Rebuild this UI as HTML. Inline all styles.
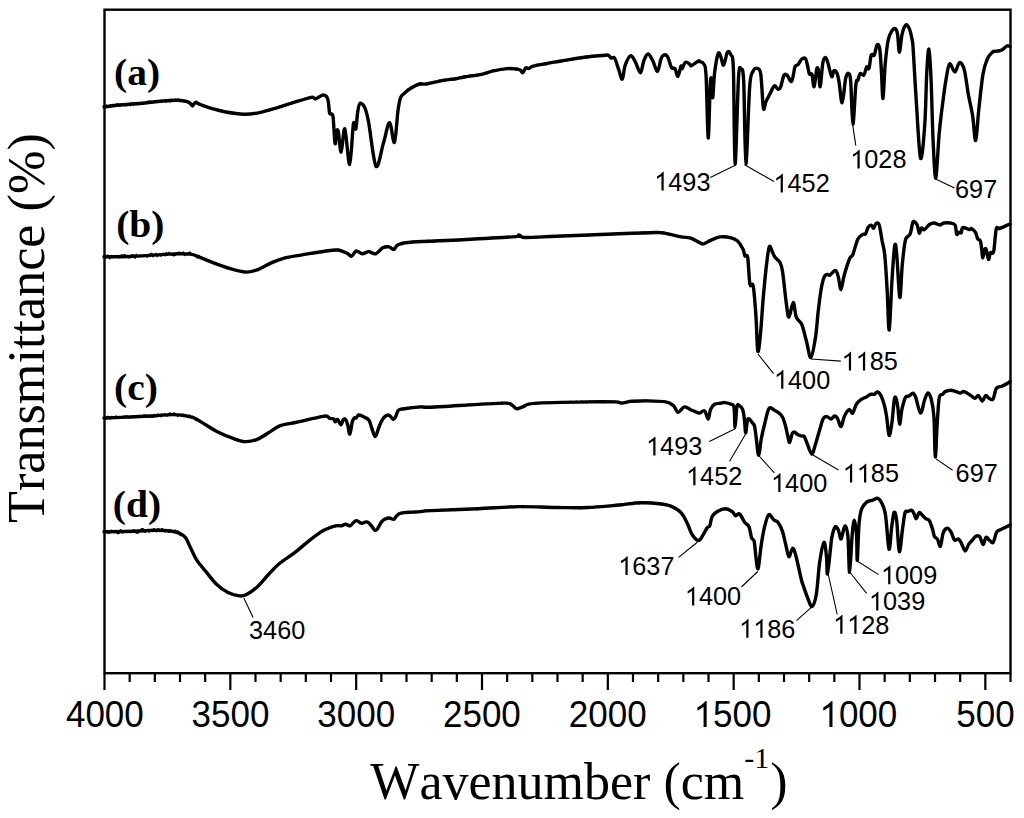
<!DOCTYPE html>
<html><head><meta charset="utf-8"><style>
html,body{margin:0;padding:0;background:#fff;}
body{width:1024px;height:818px;overflow:hidden;font-family:"Liberation Sans",sans-serif;}
svg{display:block;}
text{font-kerning:none;font-feature-settings:'kern' 0;}
</style></head><body>
<svg width="1024" height="818" viewBox="0 0 1024 818">
<rect x="104.5" y="9.7" width="906" height="663.5" fill="none" stroke="#000" stroke-width="2.4"/>
<path d="M104.50,673.2v16.7M129.67,673.2v8.7M154.83,673.2v8.7M180.00,673.2v8.7M205.17,673.2v8.7M230.33,673.2v16.7M255.50,673.2v8.7M280.67,673.2v8.7M305.83,673.2v8.7M331.00,673.2v8.7M356.17,673.2v16.7M381.33,673.2v8.7M406.50,673.2v8.7M431.67,673.2v8.7M456.83,673.2v8.7M482.00,673.2v16.7M507.17,673.2v8.7M532.33,673.2v8.7M557.50,673.2v8.7M582.67,673.2v8.7M607.83,673.2v16.7M633.00,673.2v8.7M658.17,673.2v8.7M683.33,673.2v8.7M708.50,673.2v8.7M733.67,673.2v16.7M758.83,673.2v8.7M784.00,673.2v8.7M809.17,673.2v8.7M834.33,673.2v8.7M859.50,673.2v16.7M884.67,673.2v8.7M909.83,673.2v8.7M935.00,673.2v8.7M960.17,673.2v8.7M985.33,673.2v16.7M1010.50,673.2v8.7" stroke="#000" stroke-width="2.2" fill="none"/>
<text transform="translate(65.94,727.00) scale(1,1.035)" x="0.00 19.47 38.93 58.40" y="0" font-family="Liberation Sans" font-size="35.0">4000</text>
<text transform="translate(191.51,727.00) scale(1,1.035)" x="0.00 19.47 38.93 58.40" y="0" font-family="Liberation Sans" font-size="35.0">3500</text>
<text transform="translate(317.34,727.00) scale(1,1.035)" x="0.00 19.47 38.93 58.40" y="0" font-family="Liberation Sans" font-size="35.0">3000</text>
<text transform="translate(442.97,727.00) scale(1,1.035)" x="0.00 19.47 38.93 58.40" y="0" font-family="Liberation Sans" font-size="35.0">2500</text>
<text transform="translate(568.80,727.00) scale(1,1.035)" x="0.00 19.47 38.93 58.40" y="0" font-family="Liberation Sans" font-size="35.0">2000</text>
<path d="M0.373,0L0.285,0L0.285,-0.561Q0.252,-0.530 0.199,-0.499Q0.146,-0.468 0.109,-0.454L0.109,-0.539Q0.193,-0.578 0.256,-0.634Q0.318,-0.690 0.344,-0.716L0.373,-0.716Z" transform="translate(693.60,727.00) scale(35.000,36.225)"/><text transform="translate(693.60,727.00) scale(1,1.035)" x="19.47 38.93 58.40" y="0" font-family="Liberation Sans" font-size="35.0">500</text>
<path d="M0.373,0L0.285,0L0.285,-0.561Q0.252,-0.530 0.199,-0.499Q0.146,-0.468 0.109,-0.454L0.109,-0.539Q0.193,-0.578 0.256,-0.634Q0.318,-0.690 0.344,-0.716L0.373,-0.716Z" transform="translate(819.43,727.00) scale(35.000,36.225)"/><text transform="translate(819.43,727.00) scale(1,1.035)" x="19.47 38.93 58.40" y="0" font-family="Liberation Sans" font-size="35.0">000</text>
<text transform="translate(956.21,727.00) scale(1,1.035)" x="0.00 19.47 38.93" y="0" font-family="Liberation Sans" font-size="35.0">500</text>
<path d="M104.0,106.8C107.1,106.5 115.7,105.4 122.5,104.8C129.3,104.2 138.6,103.6 144.9,103.0C151.2,102.4 155.3,101.7 160.6,101.2C165.8,100.8 172.3,100.3 176.4,100.3C180.5,100.3 183.2,100.8 185.4,101.2C187.6,101.7 188.6,102.2 189.8,103.0C191.0,103.8 191.6,105.8 192.5,105.7C193.4,105.6 194.1,102.7 195.5,102.5C196.9,102.3 198.3,103.8 201.1,104.8C203.9,105.8 208.2,107.4 212.3,108.6C216.4,109.8 220.6,111.1 225.8,112.0C231.1,112.9 238.6,114.0 243.8,114.2C249.0,114.4 252.7,113.8 257.2,113.1C261.7,112.3 265.1,111.3 270.7,109.7C276.3,108.1 284.2,105.5 290.9,103.4C297.6,101.4 307.0,98.2 311.1,97.4C315.2,96.7 313.7,99.3 315.6,98.9C317.5,98.5 320.6,95.5 322.4,95.1C324.2,94.7 325.5,95.5 326.5,96.5C327.5,97.5 327.8,98.7 328.3,101.4C328.8,104.2 329.0,110.9 329.6,113.0C330.2,115.1 331.4,113.4 332.0,114.2C332.6,115.0 332.7,113.0 333.2,117.9C333.7,122.8 334.5,141.4 335.1,143.6C335.7,145.8 336.1,133.2 336.7,131.3C337.2,129.4 337.6,128.5 338.4,132.0C339.1,135.5 340.1,152.6 341.2,152.1C342.3,151.6 343.4,126.9 344.8,128.9C346.2,131.0 348.3,165.2 349.7,164.4C351.1,163.6 352.4,129.9 353.4,124.0C354.4,118.1 355.1,130.9 355.8,128.9C356.5,126.9 357.0,116.1 357.7,111.8C358.4,107.5 358.9,103.8 360.1,103.2C361.3,102.6 363.6,104.8 365.0,108.1C366.4,111.4 366.9,113.1 368.7,122.8C370.5,132.5 373.6,162.7 376.0,166.2C378.4,169.7 381.1,150.8 383.3,143.6C385.6,136.4 387.6,123.0 389.5,122.8C391.4,122.6 393.0,144.3 394.4,142.3C395.8,140.3 397.0,118.0 398.0,110.6C399.0,103.2 399.5,100.5 400.5,97.7C401.5,94.9 402.4,95.1 404.1,93.5C405.8,91.9 408.2,89.9 410.7,88.3C413.2,86.7 416.8,84.7 419.3,84.0C421.8,83.3 421.9,84.6 425.8,84.0C429.8,83.4 438.0,81.3 443.0,80.4C448.0,79.5 452.3,79.3 455.9,78.7C459.5,78.1 460.1,77.7 464.4,77.0C468.7,76.3 476.9,75.4 481.6,74.4C486.3,73.4 488.1,72.1 492.4,71.1C496.7,70.1 503.5,68.9 507.4,68.6C511.3,68.2 513.9,68.8 516.0,69.0C518.1,69.2 519.1,69.5 520.3,70.1C521.4,70.7 522.0,73.1 522.9,72.7C523.8,72.3 524.7,68.6 525.7,67.9C526.7,67.2 527.6,68.7 528.9,68.4C530.1,68.1 530.3,67.0 533.2,66.2C536.1,65.4 541.5,64.5 546.1,63.6C550.8,62.7 554.7,62.1 561.1,61.0C567.5,59.9 577.9,58.1 584.7,57.2C591.5,56.3 598.0,55.8 601.9,55.5C605.8,55.2 606.7,54.8 608.2,55.2C609.7,55.6 610.0,57.6 611.1,58.1C612.2,58.6 613.3,56.2 614.6,58.1C615.9,60.0 617.5,66.3 618.8,69.8C620.1,73.3 621.2,80.0 622.3,79.2C623.4,78.4 623.8,69.1 625.2,65.2C626.6,61.3 628.8,56.4 630.5,55.8C632.2,55.2 633.6,58.8 635.2,61.6C636.9,64.4 639.0,73.0 640.4,72.8C641.8,72.6 642.6,63.6 643.9,60.5C645.2,57.4 646.5,54.0 648.0,54.0C649.5,54.0 651.1,57.6 652.7,60.5C654.3,63.4 656.0,71.8 657.4,71.6C658.8,71.4 659.9,62.0 660.9,59.3C661.9,56.6 662.2,55.7 663.3,55.2C664.4,54.7 666.0,54.4 667.4,56.4C668.8,58.4 670.2,65.5 671.5,67.5C672.8,69.5 673.9,67.2 675.0,68.7C676.1,70.2 676.9,76.7 677.9,76.3C678.9,75.9 680.2,67.6 680.9,66.3C681.6,65.0 681.2,69.4 682.0,68.7C682.8,68.0 684.1,62.9 685.5,62.2C686.9,61.5 689.2,64.0 690.2,64.6C691.2,65.2 690.0,66.3 691.4,65.7C692.8,65.1 697.0,61.7 698.4,61.0C699.8,60.3 699.2,61.3 700.0,61.7C700.8,62.1 702.4,61.3 703.4,63.4C704.4,65.5 705.2,62.1 706.0,74.5C706.8,86.9 707.5,136.5 708.2,137.9C708.9,139.3 709.7,92.5 710.3,83.1C710.9,73.7 711.6,79.0 712.0,81.4C712.4,83.8 712.4,99.0 712.8,97.6C713.2,96.2 713.7,80.1 714.6,72.8C715.5,65.5 717.0,56.9 718.0,54.0C719.0,51.1 719.6,53.9 720.5,55.7C721.4,57.6 722.5,65.7 723.6,65.1C724.8,64.5 726.2,54.0 727.4,52.3C728.6,50.6 729.8,51.9 730.8,54.8C731.8,57.6 732.7,51.3 733.4,69.4C734.1,87.5 734.2,162.2 735.1,163.6C736.0,165.0 737.5,93.7 738.5,78.0C739.5,62.3 740.2,68.8 741.1,69.4C742.0,70.0 742.9,65.7 743.7,81.4C744.5,97.1 744.9,162.8 745.9,163.6C746.9,164.4 748.5,101.9 749.7,86.5C750.9,71.1 751.8,74.1 753.1,71.1C754.4,68.1 756.1,67.9 757.4,68.5C758.7,69.1 759.8,67.9 760.8,74.5C761.8,81.1 762.5,103.3 763.4,107.9C764.2,112.5 764.8,104.3 765.9,101.9C767.0,99.5 768.8,96.1 770.2,93.4C771.6,90.7 773.2,86.4 774.5,85.7C775.8,85.0 776.9,88.8 777.9,89.1C778.9,89.4 779.5,89.7 780.5,87.4C781.5,85.1 782.8,77.4 783.9,75.4C785.0,73.4 786.0,74.4 787.3,75.4C788.6,76.4 790.3,82.8 791.6,81.4C792.9,80.0 794.0,69.6 795.0,66.8C796.0,64.0 796.8,66.0 797.9,64.7C799.0,63.5 800.4,60.3 801.6,59.3C802.8,58.2 804.3,57.4 805.3,58.4C806.3,59.4 806.8,62.9 807.5,65.5C808.2,68.1 808.7,72.5 809.4,74.0C810.1,75.5 811.1,72.2 811.9,74.3C812.7,76.4 813.3,87.6 814.1,86.7C814.9,85.8 816.0,71.8 816.7,69.1C817.4,66.4 817.9,67.7 818.5,70.6C819.1,73.5 819.5,88.0 820.2,86.7C820.9,85.4 822.0,67.4 822.9,62.5C823.8,57.6 824.6,57.3 825.5,57.4C826.4,57.5 827.0,60.1 828.0,63.3C829.0,66.5 830.7,75.3 831.7,76.5C832.7,77.7 833.0,71.2 833.9,70.6C834.8,70.0 835.9,71.0 836.8,72.8C837.6,74.6 838.1,76.6 839.0,81.6C839.9,86.6 841.1,103.3 842.2,102.8C843.3,102.3 844.6,83.6 845.6,78.7C846.6,73.8 847.6,73.0 848.5,73.5C849.4,74.0 850.0,73.2 850.7,81.6C851.4,90.0 852.0,123.6 852.9,124.1C853.8,124.6 855.0,91.8 855.9,84.5C856.8,77.2 857.3,81.9 858.0,80.1C858.7,78.3 859.2,74.3 860.2,73.5C861.2,72.7 862.8,76.1 863.9,75.0C865.0,73.9 865.8,68.0 866.6,66.9C867.5,65.8 868.2,70.4 869.0,68.4C869.8,66.5 870.3,57.4 871.2,55.2C872.1,53.0 873.2,56.9 874.2,55.2C875.2,53.5 876.2,45.9 877.1,44.9C878.0,43.9 879.1,44.6 879.8,49.3C880.5,53.9 881.0,64.6 881.5,72.8C882.0,81.0 882.4,99.9 883.0,98.4C883.6,96.9 884.4,73.7 885.2,64.0C886.1,54.4 887.0,46.0 888.1,40.5C889.2,35.0 890.6,33.0 891.8,31.0C893.0,29.1 894.4,28.2 895.4,28.8C896.4,29.4 896.9,30.8 897.6,34.7C898.3,38.6 898.7,52.3 899.4,52.3C900.1,52.3 901.0,39.2 902.0,34.7C903.0,30.2 904.5,26.1 905.7,25.1C906.9,24.1 908.3,26.2 909.4,28.8C910.5,31.4 911.6,36.8 912.3,40.5C912.9,44.2 912.6,40.8 913.3,51.2C914.0,61.7 915.2,85.3 916.4,103.2C917.6,121.1 919.2,154.8 920.6,158.3C922.0,161.8 923.8,138.4 924.8,124.0C925.8,109.6 926.1,84.5 926.8,72.0C927.5,59.5 928.2,48.1 928.9,49.1C929.6,50.1 930.3,63.0 931.0,78.2C931.7,93.5 932.3,124.0 933.1,140.6C933.9,157.2 934.8,179.4 935.8,178.0C936.8,176.6 938.0,145.8 939.3,132.3C940.6,118.8 942.3,106.3 943.5,96.9C944.7,87.5 945.6,81.6 946.6,76.1C947.6,70.6 948.3,64.4 949.7,63.7C951.1,63.0 953.3,72.2 954.9,72.0C956.5,71.8 957.9,63.0 959.5,62.6C961.1,62.2 962.8,64.5 964.3,69.9C965.8,75.3 967.0,87.2 968.4,94.8C969.8,102.4 971.4,108.0 972.6,115.6C973.8,123.2 974.7,141.6 975.7,140.6C976.7,139.6 977.6,120.5 978.8,109.4C980.0,98.3 981.6,82.4 983.0,74.1C984.4,65.8 985.6,63.1 987.1,59.5C988.6,55.9 990.7,53.6 992.3,52.2C993.9,50.8 994.9,51.6 996.5,51.2C998.1,50.9 1000.0,51.0 1001.7,50.1C1003.4,49.2 1005.5,46.6 1006.9,46.0C1008.3,45.4 1009.5,46.4 1010.0,46.5" fill="none" stroke="#000" stroke-width="3.4" stroke-linejoin="round" stroke-linecap="round"/>
<path d="M104.0,256.8C109.0,256.7 123.1,256.8 133.7,256.3C144.3,255.9 158.1,254.5 167.4,254.1C176.8,253.7 184.6,253.6 189.8,254.1C195.0,254.6 195.1,255.4 198.8,256.8C202.6,258.2 207.1,260.4 212.3,262.4C217.6,264.4 224.7,267.1 230.3,268.7C235.9,270.3 241.5,271.9 246.0,272.1C250.5,272.3 253.1,271.3 257.2,269.8C261.3,268.3 266.2,265.1 270.7,263.1C275.2,261.2 278.9,259.5 284.2,258.1C289.4,256.7 295.5,256.0 302.2,254.8C308.9,253.7 318.7,252.0 324.6,251.2C330.5,250.4 333.8,249.7 337.5,250.0C341.2,250.3 344.5,252.1 346.9,253.1C349.2,254.1 350.0,256.6 351.6,256.2C353.2,255.9 354.4,251.4 356.2,251.0C358.1,250.6 360.4,253.7 362.5,253.8C364.6,253.8 366.6,251.6 368.8,251.6C370.9,251.6 373.3,254.4 375.6,253.8C377.9,253.1 380.6,248.9 382.8,247.8C385.0,246.7 387.2,246.6 389.0,246.9C390.8,247.2 392.2,249.8 393.8,249.4C395.3,249.0 395.3,245.9 398.4,244.7C401.5,243.5 401.8,242.8 412.5,242.0C423.2,241.2 445.3,240.6 462.5,239.7C479.7,238.8 506.2,237.4 515.6,236.6C525.0,235.8 517.2,234.8 518.8,235.0C520.3,235.2 518.8,237.3 525.0,237.5C531.2,237.7 540.6,236.9 556.2,236.2C571.9,235.6 602.1,234.4 618.8,233.8C635.4,233.1 648.4,232.6 656.2,232.5C664.1,232.4 661.4,232.7 665.6,233.4C669.8,234.1 677.1,236.1 681.2,236.9C685.4,237.7 687.5,237.1 690.6,238.1C693.7,239.1 697.8,241.9 700.0,242.8C702.2,243.8 701.9,244.2 703.7,243.8C705.5,243.4 708.2,241.3 711.0,240.2C713.8,239.0 716.8,237.3 720.2,236.9C723.6,236.5 728.3,237.1 731.2,237.8C734.1,238.5 735.6,239.2 737.6,241.1C739.6,243.0 741.9,246.9 743.1,249.3C744.3,251.8 744.1,254.4 744.9,255.8C745.7,257.2 746.9,252.9 747.7,257.6C748.5,262.3 749.0,279.5 749.9,284.2C750.8,288.9 752.2,280.8 753.2,286.0C754.2,291.2 755.1,304.5 755.9,315.4C756.7,326.2 757.0,348.1 757.8,351.1C758.6,354.2 759.6,342.7 760.5,333.7C761.4,324.7 762.3,308.3 763.3,297.0C764.3,285.7 765.4,274.2 766.4,265.8C767.4,257.4 768.3,248.9 769.3,246.6C770.3,244.3 771.4,250.3 772.4,252.1C773.4,253.9 774.0,255.9 775.2,257.6C776.4,259.3 778.6,259.9 779.8,262.2C781.0,264.5 781.4,264.6 782.5,271.3C783.6,278.0 785.1,294.9 786.2,302.5C787.3,310.1 787.7,317.2 788.9,317.2C790.1,317.2 792.0,302.5 793.2,302.5C794.4,302.5 794.9,313.5 796.3,317.2C797.7,320.9 800.1,320.5 801.8,324.5C803.5,328.5 804.9,335.5 806.4,341.0C807.9,346.5 809.4,358.1 810.9,357.5C812.4,356.9 814.3,344.8 815.5,337.4C816.7,330.0 817.1,321.3 818.0,313.3C818.9,305.3 820.1,295.6 821.1,289.5C822.1,283.4 823.2,279.3 824.3,276.8C825.4,274.3 826.6,274.7 827.5,274.4C828.4,274.1 828.6,275.9 829.9,275.2C831.2,274.5 834.0,270.1 835.4,270.4C836.8,270.7 837.4,273.6 838.3,276.8C839.2,280.0 840.0,289.8 841.0,289.5C842.0,289.2 842.8,280.4 844.2,275.2C845.7,270.0 848.2,261.9 849.7,258.5C851.2,255.1 851.6,257.7 852.9,254.5C854.2,251.3 856.1,242.7 857.7,239.4C859.3,236.1 861.2,235.5 862.5,234.6C863.8,233.7 864.7,235.0 865.6,233.8C866.5,232.6 867.1,228.9 868.0,227.5C868.9,226.1 870.3,225.0 871.2,225.1C872.1,225.2 872.8,228.6 873.6,228.3C874.4,228.0 875.1,224.0 876.0,223.5C876.9,223.0 878.2,222.0 879.2,225.1C880.2,228.2 881.4,236.9 882.3,241.8C883.2,246.7 883.9,246.6 884.7,254.5C885.5,262.4 886.4,276.9 887.1,289.5C887.9,302.1 888.4,331.3 889.2,330.0C890.0,328.7 891.0,295.4 891.9,281.5C892.8,267.6 893.8,251.4 894.6,246.6C895.4,241.8 895.7,244.4 896.6,252.9C897.5,261.4 898.9,295.3 899.8,297.4C900.7,299.5 901.3,275.1 902.2,265.6C903.1,256.1 904.1,245.5 905.4,240.2C906.7,234.9 908.9,236.9 910.2,233.8C911.5,230.8 911.9,223.4 913.1,221.9C914.3,220.4 916.2,223.1 917.2,225.0C918.2,226.9 918.5,232.7 919.2,233.2C919.9,233.7 920.4,228.7 921.3,228.1C922.2,227.5 923.0,230.2 924.4,229.6C925.8,229.0 927.9,225.6 929.5,224.5C931.1,223.4 932.4,222.9 934.1,223.0C935.8,223.1 938.1,225.0 939.7,225.0C941.3,225.0 942.1,223.3 943.8,223.0C945.5,222.7 948.1,222.7 950.0,223.0C951.9,223.3 954.0,223.1 955.1,225.0C956.2,226.9 956.0,233.0 956.7,234.2C957.4,235.4 958.4,232.4 959.2,232.2C960.0,231.9 960.7,233.5 961.3,232.7C961.9,231.9 961.4,228.1 962.8,227.6C964.2,227.1 968.0,229.4 969.5,229.6C971.0,229.8 970.5,228.1 971.5,228.6C972.5,229.1 974.6,231.0 975.6,232.7C976.6,234.4 976.9,237.4 977.7,238.8C978.5,240.2 979.6,239.0 980.3,240.9C981.0,242.8 981.4,247.3 981.8,250.1C982.2,252.9 982.3,258.0 982.8,257.8C983.3,257.6 984.3,250.4 984.9,249.1C985.5,247.8 985.8,248.4 986.4,250.1C987.0,251.8 987.8,259.0 988.5,259.4C989.2,259.8 989.6,254.0 990.5,252.7C991.4,251.4 992.6,255.6 993.6,251.7C994.6,247.8 995.3,232.9 996.2,229.1C997.1,225.2 997.7,229.1 999.2,228.6C1000.7,228.1 1003.6,226.8 1005.4,226.0C1007.2,225.2 1009.2,224.3 1010.0,224.0" fill="none" stroke="#000" stroke-width="3.4" stroke-linejoin="round" stroke-linecap="round"/>
<path d="M104.0,418.0C109.0,417.8 125.0,417.2 133.7,416.8C142.4,416.4 149.8,416.1 156.2,415.7C162.6,415.3 167.0,414.6 171.9,414.6C176.8,414.6 181.7,415.1 185.4,415.7C189.1,416.3 190.9,416.5 194.3,418.0C197.7,419.5 201.8,422.5 205.6,424.7C209.3,426.9 212.3,429.1 216.8,431.4C221.3,433.6 227.8,436.5 232.5,438.2C237.2,439.9 240.8,441.4 244.9,441.6C249.0,441.8 252.9,441.0 257.2,439.3C261.5,437.6 266.9,433.6 270.7,431.4C274.4,429.1 275.6,427.3 279.7,425.8C283.8,424.3 289.8,423.7 295.4,422.5C301.0,421.3 308.3,419.5 313.4,418.4C318.5,417.3 323.2,416.0 325.9,416.0C328.6,416.0 328.5,417.9 329.8,418.4C331.1,418.9 332.8,418.3 333.7,418.9C334.6,419.5 334.5,421.8 335.1,421.9C335.8,422.0 336.6,418.9 337.6,419.4C338.6,419.9 340.0,424.8 341.0,424.8C342.0,424.8 342.6,420.2 343.4,419.4C344.2,418.6 345.2,418.9 345.9,419.9C346.6,420.9 347.1,422.9 347.8,425.3C348.5,427.7 349.1,434.6 349.8,434.1C350.5,433.6 351.5,425.0 352.2,422.3C352.9,419.6 353.5,418.7 354.2,418.0C354.9,417.3 355.4,418.5 356.1,418.0C356.8,417.5 357.5,415.2 358.6,415.0C359.8,414.8 361.3,415.7 363.0,416.5C364.7,417.3 367.3,417.9 368.8,419.9C370.3,421.8 370.7,425.4 371.8,428.2C372.9,431.0 374.1,436.5 375.2,436.5C376.3,436.5 377.4,431.1 378.6,428.2C379.8,425.3 380.9,421.6 382.5,419.4C384.1,417.2 386.6,415.0 388.4,415.0C390.2,415.0 392.0,419.1 393.2,419.4C394.4,419.6 394.9,418.0 395.7,416.5C396.5,415.0 397.2,411.8 398.1,410.6C399.0,409.4 399.5,409.6 401.1,409.2C402.7,408.8 404.8,408.6 407.9,408.2C411.0,407.8 416.1,407.1 420.0,406.9C423.9,406.7 421.6,407.6 431.2,407.2C440.9,406.8 465.6,405.1 478.1,404.4C490.6,403.7 500.5,402.9 506.2,403.1C512.0,403.3 510.7,404.7 512.5,405.6C514.3,406.5 515.4,408.6 517.2,408.8C519.0,408.9 520.5,407.5 523.4,406.6C526.3,405.7 523.7,404.2 534.4,403.4C545.1,402.6 574.0,402.1 587.5,401.9C601.0,401.6 609.9,401.7 615.6,401.9C621.3,402.1 619.3,403.2 621.9,403.1C624.5,403.0 627.1,401.6 631.2,401.2C635.4,400.9 641.2,400.8 646.9,400.9C652.6,401.0 661.2,401.1 665.6,401.9C670.0,402.7 671.3,403.9 673.4,405.6C675.5,407.3 676.3,412.0 678.1,412.2C679.9,412.4 682.3,407.3 684.4,406.9C686.5,406.5 688.9,408.9 690.6,409.7C692.3,410.4 693.2,410.8 694.7,411.4C696.2,412.0 697.8,413.2 699.4,413.1C701.0,413.0 703.1,409.8 704.6,410.8C706.1,411.8 707.2,419.2 708.2,419.0C709.2,418.8 709.4,412.1 710.5,409.6C711.6,407.2 712.9,405.4 714.6,404.3C716.3,403.2 718.7,403.5 720.5,403.2C722.3,402.9 723.5,402.4 725.2,402.6C727.0,402.8 729.5,403.5 731.0,404.3C732.5,405.1 733.3,403.5 734.0,407.3C734.7,411.1 734.6,427.3 735.1,427.2C735.6,427.1 736.2,410.3 736.9,406.7C737.6,403.1 738.2,405.0 739.2,405.5C740.2,406.0 741.8,407.2 742.7,409.6C743.6,412.1 744.0,416.3 744.5,420.2C745.0,424.1 745.2,433.0 745.7,433.0C746.2,433.0 746.8,422.5 747.4,420.2C748.0,417.9 748.4,418.6 749.2,419.0C750.0,419.4 751.2,421.3 752.1,422.5C753.0,423.7 753.8,423.5 754.5,426.0C755.2,428.5 755.5,432.8 756.2,437.7C756.9,442.6 757.7,455.3 758.6,455.3C759.5,455.3 760.4,443.2 761.5,437.7C762.6,432.2 763.7,427.4 765.0,422.5C766.3,417.6 767.5,410.4 769.1,408.4C770.7,406.3 772.7,409.4 774.4,410.2C776.1,411.0 777.7,411.9 779.1,413.1C780.5,414.3 781.5,415.1 782.6,417.2C783.7,419.3 784.6,422.8 785.5,426.0C786.4,429.2 787.2,433.9 787.9,436.6C788.6,439.3 788.9,442.8 789.6,442.4C790.3,442.0 791.2,435.9 792.0,434.2C792.8,432.4 793.4,431.9 794.3,431.9C795.2,431.9 796.0,433.5 797.2,434.2C798.4,434.9 800.1,435.6 801.3,436.0C802.5,436.4 803.3,435.3 804.3,436.6C805.3,437.9 806.0,440.7 807.2,443.6C808.4,446.5 810.4,453.8 811.7,454.1C813.0,454.4 813.8,449.5 815.2,445.3C816.6,441.1 818.5,433.4 819.9,428.9C821.3,424.4 822.2,420.4 823.4,418.4C824.6,416.3 825.7,416.5 827.0,416.6C828.3,416.7 829.8,419.1 831.1,419.0C832.4,418.9 833.5,416.1 834.6,416.0C835.7,415.9 836.4,416.6 837.5,418.4C838.6,420.2 839.8,427.0 841.0,426.6C842.2,426.2 843.1,418.8 844.5,416.0C845.9,413.2 847.8,410.1 849.2,409.6C850.6,409.1 851.5,414.0 852.7,413.1C853.9,412.2 854.9,406.6 856.3,404.3C857.7,402.1 859.1,400.9 860.9,399.6C862.6,398.3 865.2,397.6 866.8,396.7C868.4,395.8 869.0,394.7 870.3,394.3C871.6,393.9 873.2,394.7 874.4,394.3C875.6,393.9 876.2,391.8 877.3,392.0C878.4,392.2 879.7,393.2 880.9,395.5C882.1,397.8 883.4,401.9 884.4,405.5C885.4,409.1 885.9,412.2 886.7,417.2C887.5,422.2 888.2,434.6 889.1,435.4C890.0,436.2 891.1,427.9 892.0,421.9C892.9,415.9 893.6,403.5 894.3,399.6C895.0,395.7 895.5,397.0 896.1,398.4C896.7,399.8 897.3,403.5 897.9,407.8C898.5,412.1 898.9,424.0 899.6,424.2C900.3,424.4 901.0,413.5 902.0,409.0C903.0,404.5 904.3,399.4 905.5,397.3C906.7,395.2 907.7,396.8 909.0,396.1C910.3,395.4 912.0,392.9 913.1,393.2C914.2,393.5 914.6,394.4 915.8,397.7C917.0,401.0 919.0,412.7 920.5,413.1C922.0,413.5 923.3,403.7 924.5,400.3C925.7,396.9 926.8,393.2 927.9,393.0C929.0,392.8 930.2,395.1 931.2,399.0C932.2,402.9 933.2,406.9 933.9,416.5C934.6,426.1 934.7,455.9 935.3,456.8C935.9,457.7 936.6,431.8 937.3,421.9C938.0,412.0 938.4,402.3 939.3,397.7C940.2,393.1 941.7,395.3 942.7,394.3C943.7,393.3 944.0,392.3 945.3,391.6C946.6,390.9 948.9,390.3 950.7,390.3C952.5,390.3 954.5,391.2 956.1,391.6C957.7,392.1 958.8,393.0 960.1,393.0C961.5,393.0 962.4,391.2 964.2,391.6C966.0,392.0 969.1,394.5 970.9,395.6C972.7,396.7 973.7,398.3 974.9,398.3C976.1,398.3 977.1,395.2 978.3,395.6C979.5,396.1 981.1,401.0 982.3,401.0C983.5,401.0 984.6,396.1 985.7,395.6C986.8,395.2 987.8,397.7 989.0,398.3C990.2,398.9 991.9,400.7 993.1,399.0C994.3,397.3 995.0,390.3 996.4,388.2C997.8,386.1 1000.0,387.0 1001.8,386.2C1003.6,385.4 1005.8,384.3 1007.2,383.5C1008.6,382.7 1009.5,381.8 1010.0,381.5" fill="none" stroke="#000" stroke-width="3.4" stroke-linejoin="round" stroke-linecap="round"/>
<path d="M104.0,531.8C109.0,531.7 125.0,531.5 133.7,531.2C142.4,531.0 149.8,530.3 156.2,530.3C162.6,530.3 168.0,530.7 171.9,531.2C175.8,531.7 177.4,532.4 179.7,533.4C181.9,534.4 183.5,535.0 185.4,537.5C187.3,540.0 189.1,545.0 191.0,548.7C192.9,552.4 194.2,556.1 196.6,559.9C199.0,563.6 202.2,567.1 205.6,571.2C209.0,575.3 213.1,581.1 216.8,584.6C220.5,588.1 224.2,590.6 228.0,592.5C231.8,594.4 236.3,595.5 239.3,595.9C242.3,596.3 243.0,596.2 246.0,594.7C249.0,593.2 253.4,590.3 257.2,586.9C260.9,583.5 264.8,578.4 268.5,574.5C272.2,570.6 275.2,567.0 279.7,563.3C284.2,559.6 290.5,555.9 295.4,552.1C300.3,548.4 304.8,544.0 308.9,540.8C313.0,537.5 317.2,534.5 320.0,532.6C322.8,530.7 323.3,530.3 325.9,529.2C328.5,528.1 333.0,526.4 335.6,525.8C338.2,525.2 339.9,526.0 341.5,525.8C343.1,525.5 343.9,524.3 345.4,524.3C346.9,524.3 349.0,526.0 350.3,525.8C351.6,525.5 352.1,523.7 353.2,522.8C354.2,521.9 355.2,520.5 356.6,520.6C358.0,520.7 359.9,523.1 361.5,523.3C363.1,523.5 364.7,522.0 365.9,521.9C367.1,521.8 367.8,522.1 368.8,522.8C369.8,523.5 370.8,525.1 371.8,526.3C372.8,527.5 373.7,529.8 374.7,530.2C375.7,530.6 376.5,530.1 377.6,528.7C378.7,527.3 380.2,523.5 381.5,521.9C382.8,520.3 384.1,519.5 385.4,518.9C386.7,518.2 387.9,517.9 389.3,518.0C390.7,518.1 392.6,519.6 393.7,519.4C394.8,519.2 394.8,517.9 395.7,517.0C396.6,516.1 397.7,514.5 399.1,513.8C400.5,513.1 401.7,512.9 404.0,512.6C406.3,512.3 410.1,512.3 412.8,512.1C415.5,511.9 416.9,511.9 420.0,511.6C423.1,511.4 421.6,511.1 431.2,510.6C440.9,510.1 463.5,509.4 478.1,508.8C492.7,508.1 505.7,506.8 518.8,506.6C531.8,506.4 544.8,507.4 556.2,507.5C567.7,507.6 577.1,507.9 587.5,507.5C597.9,507.1 609.9,505.8 618.8,505.0C627.6,504.2 633.8,503.0 640.6,502.8C647.4,502.6 654.2,503.1 659.4,503.8C664.6,504.4 668.3,505.1 671.9,506.6C675.5,508.1 678.6,509.9 681.2,512.8C683.9,515.7 685.7,520.1 687.5,523.8C689.3,527.4 690.4,531.9 692.2,534.7C694.1,537.5 696.8,540.4 698.6,540.5C700.4,540.6 701.4,537.5 702.8,535.4C704.2,533.3 706.0,529.3 707.1,527.7C708.2,526.1 708.9,527.8 709.7,525.9C710.6,524.0 710.9,518.9 712.2,516.5C713.5,514.1 715.1,512.7 717.4,511.4C719.7,510.1 723.3,508.7 725.9,508.8C728.5,508.9 731.2,511.1 732.8,512.2C734.4,513.4 734.3,515.4 735.4,515.7C736.5,516.0 738.0,512.9 739.6,514.0C741.2,515.1 743.2,520.4 744.8,522.5C746.4,524.6 747.9,524.2 749.0,526.8C750.1,529.4 750.7,535.5 751.6,537.9C752.5,540.3 753.5,538.2 754.2,541.3C754.9,544.4 755.2,552.1 755.9,556.7C756.5,561.3 757.2,570.4 758.1,568.7C759.0,567.0 760.0,553.3 761.0,546.5C762.0,539.7 763.1,533.0 764.4,527.7C765.7,522.4 767.1,516.1 768.7,514.8C770.3,513.5 772.3,518.7 773.9,520.0C775.5,521.3 776.7,520.6 778.1,522.5C779.5,524.4 781.1,527.4 782.4,531.1C783.7,534.8 784.7,540.5 785.8,544.8C786.9,549.1 787.8,556.1 788.9,556.7C790.0,557.3 791.5,548.2 792.7,548.2C793.9,548.2 794.7,551.6 796.1,556.7C797.5,561.8 800.0,574.1 801.2,579.0C802.4,583.9 802.3,582.8 803.4,586.0C804.5,589.2 806.3,594.6 807.7,598.0C809.1,601.4 810.6,607.1 812.0,606.5C813.4,605.9 815.0,601.9 816.3,594.5C817.6,587.1 818.4,570.7 819.7,562.0C821.0,553.3 822.9,543.1 824.0,542.3C825.1,541.4 825.9,551.6 826.5,556.9C827.1,562.2 826.8,574.6 827.4,574.0C828.0,573.4 829.3,559.5 830.0,553.5C830.7,547.5 830.9,542.5 831.7,538.1C832.6,533.7 834.0,528.2 835.1,526.9C836.2,525.6 837.5,528.4 838.5,530.4C839.5,532.4 840.1,539.6 841.1,538.9C842.1,538.2 843.7,526.5 844.8,526.1C845.9,525.7 847.1,528.6 847.9,536.3C848.7,544.0 848.9,572.6 849.6,572.3C850.3,572.0 851.4,543.3 852.2,534.6C853.0,525.9 853.7,520.1 854.4,520.1C855.1,520.1 856.0,527.9 856.5,534.6C857.0,541.3 856.9,562.0 857.3,560.3C857.7,558.6 858.3,532.9 859.0,524.4C859.7,515.9 860.3,512.7 861.6,509.0C862.9,505.3 865.0,503.5 866.7,502.1C868.4,500.7 870.0,501.0 871.9,500.4C873.8,499.8 876.2,497.7 877.9,498.3C879.6,498.9 880.8,500.9 882.1,503.8C883.4,506.7 884.5,508.2 885.6,515.8C886.8,523.4 888.0,547.2 889.0,549.2C890.0,551.2 890.8,533.9 891.6,527.8C892.5,521.7 893.2,513.5 894.1,512.4C895.0,511.2 895.8,514.3 896.7,520.9C897.6,527.5 898.3,550.6 899.3,551.7C900.3,552.9 901.7,534.3 902.7,527.8C903.7,521.3 904.2,515.3 905.1,512.6C906.0,509.9 906.8,511.8 907.9,511.4C909.0,511.0 910.8,509.9 911.8,510.3C912.8,510.7 913.2,512.3 914.0,513.7C914.8,515.1 915.4,518.9 916.3,518.7C917.1,518.5 918.1,513.2 919.1,512.6C920.1,512.0 921.4,514.4 922.5,515.4C923.6,516.4 924.7,517.9 925.8,518.7C926.9,519.5 928.1,518.6 929.2,520.4C930.3,522.2 931.8,526.8 932.6,529.4C933.5,532.0 933.5,534.5 934.3,536.2C935.1,537.9 936.6,537.8 937.6,539.5C938.6,541.2 939.5,547.4 940.4,546.3C941.3,545.2 942.1,535.8 943.2,532.8C944.3,529.8 945.9,528.4 947.2,528.3C948.5,528.2 949.9,530.2 951.1,532.2C952.3,534.2 953.3,539.0 954.5,540.1C955.7,541.2 957.3,538.5 958.4,539.0C959.5,539.5 960.1,540.9 961.2,542.9C962.3,544.9 963.9,550.5 965.1,550.8C966.3,551.1 967.4,546.3 968.5,544.6C969.6,542.9 970.7,542.0 971.9,540.6C973.1,539.2 974.5,536.9 975.8,536.2C977.1,535.6 978.5,535.3 979.7,536.7C980.9,538.1 982.1,544.5 983.1,544.6C984.1,544.7 984.9,538.0 985.9,537.3C986.9,536.5 988.1,539.3 989.3,540.1C990.5,540.9 992.0,543.6 993.2,542.3C994.4,541.0 995.3,534.4 996.6,532.2C997.9,530.1 999.6,530.2 1001.1,529.4C1002.6,528.6 1004.1,528.0 1005.6,527.2C1007.1,526.5 1009.3,525.3 1010.0,524.9" fill="none" stroke="#000" stroke-width="3.4" stroke-linejoin="round" stroke-linecap="round"/>
<path d="M104.0,106.2L104.7,105.6L105.6,107.1L106.7,105.1L107.8,106.5L109.1,105.8L110.4,104.7L111.8,105.9L113.3,104.3L114.8,105.4L116.4,104.0L117.9,103.9L119.5,104.9L121.0,106.0L122.5,103.6L123.7,103.8L125.0,105.0L126.3,105.9L127.6,104.6L129.0,103.9L130.4,105.7L131.8,102.6L133.2,105.1L134.6,103.2L136.0,102.6L137.3,102.4L138.7,102.9L140.0,104.4L141.3,102.3L142.5,103.5L143.8,103.6L144.9,102.6L146.4,103.0L147.9,101.3L149.3,101.1L150.6,101.4L151.9,102.8L153.2,101.8L154.4,101.3L155.6,102.0L156.8,101.4L158.1,100.8L159.3,102.3L160.6,101.8L161.9,100.3L163.3,101.2L164.7,101.0L166.1,102.0L167.5,101.4L168.9,99.9L170.3,102.0L171.6,99.2L172.9,100.1L174.2,101.2L175.3,99.2L176.4,100.3L178.3,98.9L180.1,101.0L181.6,101.4L183.0,101.0L184.2,102.2L185.4,100.6L187.3,102.3L188.6,102.6L189.8,103.3L191.2,104.5L192.5,106.8L193.4,106.3L194.3,103.3L195.5,103.0L196.6,101.2L197.8,103.9L199.2,104.5M400.2,99.6L400.5,98.4L401.3,95.6L402.0,94.9L403.0,94.8L404.1,92.4L405.0,92.6L406.0,91.1L407.1,90.1L408.2,89.0L409.4,89.7L410.7,87.5L411.8,87.0L413.1,86.6L414.4,87.0L415.7,84.6L416.9,84.8L418.2,84.5L419.3,84.8L420.6,84.5L421.5,84.7L422.5,83.6L423.8,84.0L425.8,83.7L426.8,84.7L427.9,84.6L429.1,82.6L430.4,82.4L431.8,82.2L433.3,81.9L434.7,82.1L436.2,82.0L437.7,81.0L439.1,80.1L440.5,80.7L441.8,80.3L443.0,80.5L444.5,81.1L445.9,80.4L447.3,79.8L448.7,79.8L450.0,79.8L451.3,78.3L452.5,80.0L453.7,79.6L454.8,79.7L455.9,79.4L457.5,78.2L458.7,77.9L459.9,77.0L461.1,77.9L462.5,76.4L464.4,76.0L465.5,76.2L466.6,75.9L467.9,76.1L469.3,75.3L470.7,75.0L472.1,75.1L473.6,74.8L475.1,75.2L476.5,74.2L477.9,75.9L479.2,75.1L480.5,73.9L481.6,73.9L483.2,73.7L484.7,73.3L485.9,72.3L487.1,73.5L488.3,73.4L489.6,71.8L490.9,71.4L492.4,70.2L493.6,70.0L495.0,70.2L496.4,69.8L497.8,70.7L499.3,69.0L500.8,68.4L502.2,70.3L503.7,69.1L505.0,68.1L506.3,68.8L507.4,67.6L509.3,68.6L510.9,69.5L512.4,69.4L513.7,69.1L514.9,68.3L516.0,68.7L517.8,68.5L519.2,70.2L520.3,70.2L521.7,72.4L522.9,72.3L523.6,71.3L524.3,71.1L525.0,70.0L525.7,68.7L527.2,68.7L528.9,69.1L529.9,68.4L531.1,66.5L533.2,66.2L534.1,65.6L535.2,64.7L536.4,64.4L537.6,64.7L539.0,64.4L540.4,65.1L541.8,65.4L543.2,64.0L544.7,64.8L546.1,64.7L547.4,64.4L548.6,62.8L549.8,62.3L551.0,62.1L552.3,61.8L553.6,61.6L554.9,62.3L556.3,62.7L557.8,62.3L559.4,61.2L561.1,61.3L562.2,61.5L563.4,59.7L564.6,60.8L565.9,61.1L567.2,60.6L568.6,60.3L569.9,59.5L571.4,58.6L572.8,59.7L574.2,58.4L575.6,59.2L577.0,59.4L578.4,57.9L579.7,57.7L581.0,58.7L582.3,58.0L583.5,56.6L584.7,56.4L586.3,56.2L587.8,57.7L589.3,57.3L590.8,55.7L592.3,57.0L593.7,57.3L595.1,56.4L596.4,55.6L597.6,56.0L598.8,54.9L599.9,54.6L601.0,56.6L601.9,55.8L604.3,55.3L605.9,56.0L607.1,54.9L608.2,56.0L609.4,56.8L610.2,56.8L611.1,57.7L612.8,57.2L614.6,57.7L615.0,59.0L615.5,59.6L616.0,61.1L616.5,62.0L616.9,64.8L617.4,65.4L617.9,67.1L618.4,68.7L618.8,70.4L619.3,71.3L619.9,74.0L620.4,75.2L620.9,77.0L621.4,78.3L621.8,78.3L622.3,79.1L622.6,78.2L622.9,77.0L623.1,77.1L623.4,74.5L623.6,73.3L623.9,72.0L624.2,69.9L624.5,67.8L624.8,66.5L625.2,65.3L625.8,64.2L626.4,61.5L627.0,60.8L627.7,58.9L628.5,57.7L629.2,57.4L629.8,56.2L630.5,55.9L631.5,56.3L632.4,57.4L633.3,58.1L634.2,60.0L635.2,61.6L635.8,62.8L636.4,64.5L637.0,65.7L637.6,67.6L638.2,69.1L638.8,71.3L639.3,72.1L639.9,73.2L640.4,73.5L640.9,72.0L641.3,71.6L641.7,70.9L642.0,69.2L642.4,66.3L642.8,64.4L643.1,63.2L643.5,61.1L643.9,60.1L644.7,57.9L645.5,57.1L646.3,55.8L647.1,55.0L648.0,53.4L648.7,54.6L649.5,55.3L650.3,55.6L651.1,58.1L651.9,59.7L652.7,60.1L653.2,62.4L653.8,62.9L654.3,64.7L654.9,67.2L655.4,68.6L655.9,68.9L656.4,70.5L656.9,71.4L657.4,71.3L657.8,70.7L658.3,70.0L658.7,69.3L659.1,66.5L659.5,65.6L659.9,63.6L660.2,61.2L660.6,60.2L660.9,59.5L661.7,57.1L662.4,55.2L663.3,56.0L664.5,55.3L666.0,55.8L667.4,55.8L667.9,56.9L668.3,57.7L668.8,60.2L669.3,60.8L669.7,62.1L670.2,64.0L670.6,66.2L671.1,67.2L671.5,67.1L673.3,67.8L675.0,69.4L675.5,69.9L676.0,71.7L676.5,72.5L676.9,74.1L677.4,76.3L677.9,76.2L678.3,75.1L678.7,75.4L679.1,73.5L679.5,72.1L679.9,69.2L680.3,68.9L680.6,66.4L680.9,66.9L681.4,67.2L682.0,68.4L682.5,67.9L683.2,67.0L683.9,64.2L684.7,62.5L685.5,62.2L686.7,61.8L688.0,62.3L689.2,63.3L690.2,63.9L691.4,65.2L692.3,64.9L693.5,64.1L694.9,63.8L696.3,62.0L697.5,61.5L698.4,60.5L700.0,61.5M985.2,63.7L985.5,63.0L985.9,61.6L986.3,61.8L986.7,60.6L987.1,59.0L987.9,57.7L988.8,57.0L989.7,54.4L990.6,54.4L991.5,52.9L992.3,52.2L993.7,51.9L995.1,51.1L996.5,51.2L997.7,51.3L999.0,51.6L1000.4,50.3L1001.7,50.6L1002.8,49.7L1003.9,48.7L1005.0,47.3L1006.0,46.3L1006.9,45.3L1008.8,45.4L1010.0,45.8M104.0,255.7L104.7,258.7L105.6,255.2L106.5,257.6L107.5,255.0L108.7,255.7L109.8,258.8L111.1,255.5L112.4,257.3L113.8,256.5L115.3,256.5L116.7,256.7L118.3,255.4L119.8,258.0L121.4,254.9L122.9,255.5L124.5,254.6L126.1,255.6L127.7,256.1L129.2,258.1L130.7,255.9L132.2,254.7L133.7,255.3L135.0,258.3L136.3,254.3L137.6,256.6L139.0,255.5L140.4,256.6L141.8,255.2L143.2,256.5L144.6,255.6L146.0,256.2L147.4,257.1L148.9,255.7L150.3,253.7L151.7,253.3L153.1,256.9L154.5,254.9L155.9,253.5L157.3,256.6L158.7,254.9L160.0,255.5L161.3,256.0L162.6,253.4L163.9,253.7L165.1,255.8L166.3,252.6L167.4,255.2L169.0,252.3L170.6,254.8L172.2,254.8L173.7,255.8L175.2,255.3L176.7,253.8L178.1,252.5L179.5,252.3L180.8,253.9L182.1,253.8L183.3,252.0L184.5,255.5L185.7,253.9L186.8,254.8L187.8,252.8L188.8,253.0L189.8,252.1L191.7,253.7L193.2,253.6L194.4,254.6L195.3,254.8L196.3,257.1L197.4,257.9L198.8,255.4L199.8,256.8M331.2,249.5L332.5,250.5L333.8,251.0L335.1,249.3L336.3,250.5L337.5,249.6L339.1,249.1L340.6,251.2L342.0,250.7L343.4,250.8L344.7,251.9L345.8,252.0L346.9,252.9L348.4,254.0L349.5,255.0L350.5,256.2L351.6,255.8L352.5,254.7L353.4,253.5L354.3,252.1L355.2,251.7L356.2,250.7L357.4,251.8L358.6,251.8L359.9,253.1L361.2,254.4L362.5,252.8L363.7,252.5L365.0,252.2L366.2,252.1L367.5,252.0L368.8,252.1L370.1,251.6L371.4,253.6L372.8,252.2L374.2,254.5L375.6,253.1L376.6,254.1L377.7,251.5L378.7,252.5L379.8,251.0L380.8,250.4L381.8,248.6L382.8,247.1L384.5,248.2L386.1,246.7L387.6,245.9L389.0,247.1L390.3,247.4L391.5,248.3L392.6,248.4L393.8,248.6L394.5,249.1L395.2,247.8L395.9,246.0L396.9,245.5L398.4,245.2L399.2,244.9L399.9,244.0L400.6,243.6L401.3,243.2L402.1,242.7L403.1,242.4L404.3,242.7L405.8,241.8L407.6,242.9L409.8,242.7L412.5,242.2L413.4,240.9L414.3,241.6L415.2,241.7L416.2,240.9L417.3,242.7L418.4,242.2L419.5,241.6L420.6,241.9L421.8,240.9L423.0,240.9L424.3,241.4L425.5,241.7L426.8,241.5L428.2,240.3L429.5,241.3L430.9,241.8L432.2,241.4L433.6,241.7L435.1,241.7L436.5,240.3L437.9,240.4L439.4,240.8L440.8,241.5L442.3,240.4L443.8,241.3L445.3,241.1L446.7,240.4L448.2,240.6L449.7,241.1L451.1,240.7L452.6,239.8L454.1,240.7L455.5,239.5L456.9,239.7L458.3,240.7L459.7,240.5L461.1,239.4L462.5,239.3L463.8,239.8L465.1,240.2L466.5,239.8L467.9,240.2L469.3,239.8L470.8,239.8L472.2,239.4L473.7,238.9L475.2,238.9L476.7,238.9L478.2,238.9L479.8,239.4L481.3,238.3L482.8,237.8L484.4,238.9L485.9,238.0L487.4,238.2L489.0,237.6L490.5,238.8L492.0,237.7L493.5,237.6L494.9,238.5L496.4,237.9L497.8,237.4L499.2,238.4L500.6,237.4L501.9,237.3L503.2,238.3L504.5,237.9L505.8,237.7L507.0,236.8L508.1,237.7L509.2,237.2L510.3,237.6L511.3,236.7L512.3,237.4L513.2,237.3L514.1,236.5L514.9,236.9L515.6,237.1L520.1,236.3L518.8,235.8L519.4,235.8L519.8,235.2L520.6,236.8L522.1,237.5L525.0,236.8L525.8,237.5L526.6,238.2L527.5,238.3L528.4,238.3L529.3,236.8L530.3,237.7L531.3,238.1L532.4,237.7L533.5,237.0L534.7,236.5L535.9,238.0L537.1,237.8L538.4,237.4L539.7,236.8L541.1,237.6L542.6,237.5L544.1,237.2L545.7,236.9L547.3,236.3L548.9,236.2L550.7,236.2L552.5,236.1L554.3,236.4L556.2,235.6L557.2,236.6L558.3,235.9L559.3,235.5L560.4,235.6L561.6,235.8L562.7,235.9L563.9,236.4L565.1,235.2L566.4,235.3L567.7,235.4L569.0,235.2L570.3,236.1L571.6,234.9L572.9,234.8L574.3,235.6L575.7,235.9L577.1,236.0L578.5,235.5L579.9,235.0L581.3,235.9L582.8,235.6L584.2,235.1L585.7,235.2L587.1,235.8L588.6,235.8L590.0,235.7L591.5,234.2L592.9,234.5L594.3,234.5L595.8,234.1L597.2,235.1L598.6,233.7L600.0,235.2L601.4,234.6L602.8,234.6L604.2,234.2L605.5,235.0L606.8,234.4L608.1,234.9L609.4,234.9L610.7,234.4L611.9,234.9L613.1,233.9L614.3,233.7L615.5,234.5L616.6,233.9L617.7,233.4L618.8,234.1L620.5,233.6L622.3,232.9L624.0,234.2L625.7,233.5L627.3,234.3L628.9,233.4L630.5,234.1L632.1,232.9L633.6,232.7L635.1,233.2L636.6,233.5L638.0,233.6L639.5,233.2L640.8,232.2L642.2,232.7L643.5,232.0L644.7,232.5L646.0,233.5L647.2,232.4L648.3,233.0L649.4,232.9L650.5,232.0L651.6,232.9L652.6,231.8L653.6,232.0L654.5,232.7L655.4,231.8L656.2,233.3L659.0,232.4L660.8,232.8L661.9,233.4L662.6,232.0L663.3,233.8L664.2,232.3L665.6,233.6L666.7,233.9L667.9,234.7L669.2,233.9L670.6,235.3L672.0,235.1L673.4,235.1L674.9,234.9L676.3,235.3L677.6,235.9L678.9,236.1L680.1,236.4L681.2,237.5L682.9,236.9L684.4,237.5L685.7,236.6L686.9,236.8L688.1,237.9L689.3,238.5L690.6,237.8L691.8,237.7L693.1,238.6L694.4,239.5L695.7,240.2L696.9,241.3L698.0,241.4L699.1,242.6L700.0,243.5L702.0,244.5L703.7,244.4L704.7,243.7L705.8,242.4L707.0,243.1L708.3,241.0L709.6,241.7L711.0,240.1L712.2,240.0L713.4,239.1L714.7,238.9L716.0,237.6L717.4,237.7L718.8,237.7L720.2,236.6L721.5,237.0L722.9,236.7L724.4,236.8L725.9,236.7L727.3,237.2L728.7,237.8L730.0,236.8L731.2,237.0L732.8,239.0L734.1,237.7L735.3,240.0L736.5,240.7L737.6,240.4L738.5,242.4L739.3,242.5L740.2,245.3L741.0,244.9L741.8,246.0L742.5,247.1L743.1,249.8L743.7,250.1L744.0,251.8L744.3,254.8L744.5,255.4L744.9,256.4M905.2,241.2L905.4,240.5L906.1,237.2L907.0,237.4L907.8,235.8L908.7,236.3L909.5,234.8L910.2,234.5L910.6,231.7L910.9,232.1L911.3,229.0L911.6,228.1L911.8,226.4L912.1,225.8L912.4,224.0L912.7,223.5L913.1,222.6L914.5,221.5L915.9,222.4L917.2,224.4L917.7,226.6L918.0,228.7L918.3,229.9L918.6,231.0L918.9,232.7L919.2,233.5L919.7,232.3L920.2,231.4L920.7,228.7L921.3,227.2L922.7,228.1L924.4,229.6L925.3,229.3L926.3,227.4L927.4,226.4L928.5,225.7L929.5,224.1L931.0,223.6L932.5,223.3L934.1,222.8L935.5,222.8L936.9,224.4L938.4,225.1L939.7,224.4L941.1,225.1L942.3,223.9L943.8,223.7L945.2,223.3L946.8,222.7L948.5,223.2L950.0,222.7L951.4,223.5L952.8,222.7L954.1,223.7L955.1,225.0L955.5,226.7L955.8,227.8L956.0,229.8L956.1,231.3L956.3,233.0L956.5,233.6L956.7,234.4L957.9,233.7L959.2,231.7L961.3,233.2L961.6,231.9L961.8,229.4L962.1,228.0L962.8,227.1L963.9,228.0L965.3,228.2L966.9,228.1L968.4,229.6L969.5,229.7L971.5,228.2L972.4,229.1L973.5,231.1L974.7,230.8L975.6,232.2L976.3,234.3L976.7,236.5L977.2,238.3L977.7,238.6L979.0,240.1L980.3,240.2L980.6,241.6L980.8,243.7L981.0,244.7L981.2,245.8L981.4,247.6L981.6,248.8L981.8,250.2L982.0,252.7L982.2,254.9L982.3,255.4L982.5,257.8L982.8,258.6L983.1,257.4L983.4,255.8L983.8,253.6L984.2,251.9L984.6,250.3L984.9,249.3L986.4,249.4L986.7,252.0L987.0,252.2L987.3,254.4L987.6,255.6L987.9,257.9L988.2,258.1L988.5,259.1L988.9,258.8L989.3,257.3L989.6,255.7L990.0,253.3L990.5,252.7L992.0,253.7L993.6,251.9L993.8,251.7L993.9,250.7L994.1,248.7L994.2,247.3L994.4,246.4L994.5,245.1L994.7,242.9L994.8,241.5L995.0,239.9L995.1,237.9L995.3,236.3L995.4,234.6L995.6,233.3L995.7,232.0L995.9,231.4L996.0,229.3L996.2,228.4L997.5,228.4L999.2,228.6L1000.3,228.6L1001.5,228.4L1002.9,227.5L1004.2,226.6L1005.4,226.8L1007.2,225.4L1008.9,224.4L1010.0,223.4M104.0,417.9L104.7,417.6L105.6,416.8L106.6,419.1L107.7,416.3L108.9,417.8L110.2,419.0L111.5,416.4L112.9,417.8L114.4,418.0L115.9,416.1L117.4,417.1L119.0,418.1L120.6,417.2L122.2,418.0L123.8,416.1L125.3,416.3L126.8,415.8L128.3,417.0L129.8,418.3L131.2,417.2L132.5,417.7L133.7,416.4L135.2,417.5L136.7,415.4L138.2,415.9L139.6,417.1L141.1,417.2L142.4,416.2L143.8,415.0L145.2,415.5L146.5,415.3L147.8,415.4L149.1,417.1L150.3,415.1L151.5,417.2L152.7,417.1L153.9,414.4L155.1,415.4L156.2,415.7L157.8,414.1L159.2,415.3L160.7,416.7L162.0,414.0L163.3,415.4L164.6,413.8L165.9,415.2L167.1,416.1L168.3,413.8L169.5,413.1L170.7,413.3L171.9,414.7L173.4,413.1L174.8,413.3L176.3,414.7L177.7,416.2L179.1,414.7L180.4,414.7L181.8,415.7L183.0,414.1L184.2,415.8L185.4,414.7L186.9,416.3L188.2,417.6L189.4,414.9L190.6,416.8L191.7,417.3L192.9,416.3L194.3,417.3L195.3,420.1L196.4,420.7L197.5,418.5L198.7,421.0L199.8,422.5M401.1,408.7L402.1,409.2L403.3,408.0L404.6,408.4L406.1,408.7L407.9,408.4L409.0,408.6L410.2,407.2L411.6,407.5L413.0,408.2L414.4,407.5L415.8,407.1L417.3,406.9L418.7,407.9L420.0,407.0L421.2,406.0L422.0,407.5L422.7,406.7L423.5,407.0L424.5,406.7L426.0,407.2L428.1,407.0L431.2,406.5L432.1,407.4L433.0,406.4L434.0,407.6L435.0,406.2L436.1,407.5L437.2,407.4L438.4,406.8L439.6,407.1L440.9,406.2L442.2,407.0L443.5,406.4L444.9,406.0L446.3,407.2L447.7,406.1L449.2,405.9L450.7,406.7L452.1,405.8L453.6,406.2L455.1,405.2L456.6,406.3L458.1,405.2L459.6,404.7L461.1,406.3L462.5,404.7L464.0,406.0L465.4,406.0L466.9,405.3L468.3,404.1L469.6,404.1L471.0,404.3L472.3,404.5L473.5,404.9L474.7,405.4L475.9,404.3L477.0,403.8L478.1,404.5L479.9,403.6L481.6,403.5L483.3,404.2L485.0,404.4L486.6,403.1L488.1,403.7L489.7,404.1L491.2,404.1L492.6,403.3L494.0,404.2L495.4,402.8L496.7,403.7L498.0,403.7L499.2,403.9L500.3,403.1L501.5,402.4L502.5,402.3L503.5,403.1L504.5,402.5L505.4,403.3L506.2,402.4L508.9,403.9L510.4,403.3L511.2,403.5L511.7,404.4L512.5,405.5L513.7,406.6L514.9,407.3L516.0,407.7L517.2,408.7L518.3,409.5L519.3,408.4L520.5,408.6L521.8,406.3L523.4,407.5L524.3,406.9L524.8,405.9L525.3,405.4L526.0,405.0L527.0,405.3L528.6,403.3L531.0,404.0L534.4,403.5L535.2,403.0L536.1,403.7L537.1,403.6L538.1,402.5L539.2,403.5L540.3,403.0L541.5,403.0L542.7,403.2L544.0,402.1L545.3,403.1L546.6,402.6L548.0,403.5L549.4,402.2L550.9,403.3L552.3,403.1L553.8,402.8L555.3,403.2L556.8,401.7L558.3,402.7L559.9,402.7L561.4,402.7L563.0,402.2L564.5,401.6L566.0,401.8L567.6,402.5L569.1,401.7L570.6,401.4L572.1,401.9L573.6,402.1L575.0,402.2L576.4,401.2L577.8,402.6L579.2,401.8L580.5,402.5L581.8,401.1L583.0,402.8L584.2,402.1L585.4,402.8L586.5,402.8L587.5,402.5L589.4,401.2L591.2,401.6L593.0,401.3L594.7,402.3L596.4,401.2L598.0,401.3L599.5,401.0L601.0,401.1L602.4,402.5L603.8,402.6L605.1,401.5L606.4,402.2L607.6,401.7L608.8,401.8L609.9,401.5L611.0,402.0L612.0,401.3L612.9,401.4L613.9,401.9L614.8,401.3L615.6,401.8L618.6,403.0L619.9,401.8L620.6,402.3L621.9,403.6L623.0,402.2L624.2,402.3L625.4,403.1L626.6,402.3L628.0,401.3L629.6,400.7L631.2,400.8L632.3,400.8L633.5,401.6L634.6,401.9L635.9,401.5L637.2,401.7L638.5,401.7L639.8,401.6L641.2,401.6L642.6,401.7L644.0,400.1L645.5,400.5L646.9,400.4L648.2,401.1L649.5,400.9L650.9,400.7L652.3,401.6L653.8,400.9L655.3,400.6L656.7,400.7L658.2,401.1L659.6,401.5L661.0,401.5L662.3,401.4L663.5,401.0L664.6,401.6L665.6,401.6L667.6,401.7L669.1,402.9L670.4,402.8L671.4,404.4L672.4,405.1L673.4,404.9L674.3,406.9L675.1,407.7L675.8,409.4L676.5,411.0L677.3,412.2L678.1,412.9L679.1,412.3L680.1,410.5L681.2,409.9L682.2,408.2L683.3,406.6L684.4,407.0L685.7,406.9L687.0,408.2L688.3,408.0L689.5,409.7L690.6,409.7L692.1,409.6L693.4,411.3L694.7,411.0L696.2,412.2L697.8,412.1L699.4,412.2M940.4,395.8L941.6,393.8L942.7,393.7L943.9,392.2L945.3,390.9L946.5,391.7L947.8,391.6L949.3,390.7L950.7,390.1L952.1,391.1L953.5,390.8L954.8,390.5L956.1,391.9L957.5,391.9L958.8,392.3L960.1,392.7L961.4,392.3L962.6,391.2L964.2,391.8L965.2,392.6L966.3,392.7L967.6,392.5L968.8,394.5L969.9,394.1L970.9,395.6L972.5,397.5L973.7,398.2L974.9,399.0L976.1,398.0L977.1,395.7L978.3,395.0L979.1,396.2L979.9,398.0L980.7,398.7L981.5,400.2L982.3,401.4L983.2,399.9L984.0,398.7L984.9,396.7L985.7,396.4L986.8,395.1L987.8,396.7L989.0,398.8L990.3,399.4L991.8,399.0L993.1,398.3L993.5,397.6L993.9,397.0L994.3,396.1L994.7,393.3L995.0,391.6L995.4,390.9L995.9,389.1L996.4,388.8L997.6,388.0L999.0,387.5L1000.4,386.9L1001.8,386.2L1003.2,384.8L1004.7,385.4L1006.0,384.0L1007.2,383.4L1008.9,382.6L1010.0,382.3M104.0,532.1L104.7,531.5L105.6,532.1L106.6,530.5L107.7,533.0L108.9,533.1L110.2,532.3L111.5,530.2L112.9,531.7L114.4,530.9L115.9,530.5L117.4,533.5L119.0,533.6L120.6,529.6L122.2,533.0L123.8,531.9L125.3,530.9L126.8,530.5L128.3,532.1L129.8,531.1L131.2,532.0L132.5,531.9L133.7,529.7L135.2,532.3L136.7,533.1L138.2,533.0L139.6,531.4L141.1,529.0L142.4,528.7L143.8,529.2L145.2,532.5L146.5,529.8L147.8,530.0L149.1,532.2L150.3,529.7L151.5,530.6L152.7,530.1L153.9,528.5L155.1,530.7L156.2,531.7L157.8,528.9L159.3,529.2L160.8,530.0L162.2,528.5L163.6,530.5L165.0,531.9L166.3,531.3L167.5,530.9L168.7,532.3L169.8,529.5L170.9,531.4L171.9,530.7L173.7,531.9L175.2,530.1L176.4,533.3L177.5,530.8L178.6,531.5L179.7,534.7L181.0,535.9M400.5,513.1L402.0,512.7L404.0,512.1L405.3,512.1L406.7,512.6L408.3,511.7L409.8,511.6L411.4,512.1L412.8,511.5L414.3,512.3L415.6,512.5L416.9,512.3L418.3,511.7L420.0,511.3L421.0,511.4L421.7,510.5L422.4,511.7L423.1,510.9L424.2,510.7L425.8,510.2L428.1,510.7L431.2,510.7L432.1,510.4L433.0,511.2L433.9,510.8L434.9,510.0L436.0,510.4L437.1,511.1L438.2,510.3L439.4,510.4L440.6,509.4L441.9,510.1L443.1,510.0L444.5,509.9L445.8,509.9L447.2,510.1L448.6,510.0L450.0,509.8L451.4,509.2L452.8,509.6L454.3,510.5L455.7,509.5L457.2,508.7L458.7,508.6L460.2,509.5L461.6,508.6L463.1,508.6L464.5,508.6L466.0,509.2L467.4,510.1L468.8,509.1L470.2,509.0L471.6,508.9L473.0,509.0L474.3,508.8L475.6,509.3L476.9,509.5L478.1,509.1L479.5,508.5L480.9,508.9L482.3,509.3L483.7,507.8L485.0,507.9L486.4,508.5L487.8,508.6L489.1,508.4L490.4,508.2L491.8,508.6L493.1,507.8L494.4,508.4L495.7,508.5L497.1,507.5L498.4,508.2L499.7,507.9L501.0,508.1L502.2,506.5L503.5,508.0L504.8,507.6L506.1,507.9L507.4,507.9L508.6,506.6L509.9,507.2L511.2,506.2L512.4,506.9L513.7,507.5L515.0,506.1L516.2,506.4L517.5,505.9L518.8,506.1L520.1,506.1L521.5,505.8L522.9,507.5L524.3,507.3L525.7,506.5L527.1,507.0L528.5,507.0L529.9,506.7L531.3,506.6L532.6,507.0L534.0,506.9L535.4,506.4L536.7,506.6L538.1,507.1L539.4,507.2L540.8,506.5L542.1,507.3L543.4,507.8L544.8,507.8L546.1,507.5L547.4,506.5L548.7,507.2L550.0,506.6L551.2,506.6L552.5,507.0L553.8,507.4L555.0,507.9L556.2,507.7L557.7,507.1L559.1,507.9L560.5,507.6L561.8,507.6L563.2,507.2L564.5,507.5L565.8,507.4L567.1,508.1L568.4,507.6L569.7,507.6L571.0,507.7L572.3,507.7L573.5,508.1L574.8,508.1L576.1,508.3L577.3,507.5L578.6,508.2L579.8,508.5L581.1,508.6L582.4,508.1L583.6,506.8L584.9,508.2L586.2,508.2L587.5,506.6L588.8,507.1L590.1,507.1L591.5,507.7L592.8,507.4L594.2,506.7L595.5,506.5L596.9,506.3L598.3,506.1L599.6,507.3L601.0,507.4L602.4,506.0L603.7,506.8L605.1,507.1L606.4,505.6L607.7,506.2L609.0,505.8L610.3,506.6L611.6,506.3L612.9,504.7L614.1,504.9L615.3,505.9L616.5,505.3L617.6,505.1L618.8,505.6L620.4,505.3L622.0,505.5L623.5,504.2L624.9,503.5L626.4,504.5L627.8,503.2L629.1,504.0L630.5,504.3L631.8,503.3L633.0,503.6L634.3,502.7L635.6,502.5L636.8,503.2L638.1,503.6L639.3,503.8L640.6,502.0L642.1,503.5L643.5,502.8L644.9,502.5L646.4,502.6L647.8,503.0L649.2,502.6L650.6,502.3L651.9,503.7L653.3,503.5L654.6,503.4L655.8,503.8L657.1,504.4L658.3,503.0L659.4,504.3L661.1,504.5L662.7,503.9L664.1,504.5L665.6,504.6L666.9,504.4L668.2,505.2L669.5,505.1L670.7,506.9L671.9,506.0L673.2,507.4L674.5,507.9L675.8,509.3L677.0,509.7L678.1,509.7L679.2,510.6L680.3,511.0L681.2,512.0L682.1,513.5L682.9,515.7L683.6,515.3L684.3,516.8L685.0,518.9L685.6,519.7L686.3,520.7L686.9,523.3L687.5,522.9L688.1,525.2L688.6,526.2L689.1,527.3L689.6,528.4M705.1,530.5L705.8,529.7L706.5,529.3L707.1,527.6L708.5,527.6L709.7,526.8L710.0,524.1L710.3,524.6L710.6,522.4L710.9,520.4L711.3,519.1L711.7,518.6L712.2,516.2L713.0,514.2L713.9,515.1L715.0,512.1L716.1,511.2L717.4,511.9L718.6,510.3L720.0,509.6L721.5,509.9L723.1,510.1L724.5,508.5L725.9,509.8L727.5,509.4L729.0,510.0L730.4,510.6L731.7,510.2L732.8,511.4L733.9,514.0L734.6,515.4L735.4,514.7L736.6,515.5L738.1,513.9L739.6,514.2L740.3,514.5L741.0,515.1L741.8,516.8L742.6,519.7L743.4,519.3L744.1,522.3L744.8,522.6L746.0,522.7L747.1,525.2L748.1,524.2L749.0,527.6L749.4,527.5L749.8,530.3M900.0,550.3L900.2,548.5L900.4,547.7L900.6,546.9L900.8,543.8L901.0,542.1L901.2,540.4L901.4,539.6L901.6,536.7L901.8,534.9L902.0,533.8L902.2,532.1L902.4,530.2L902.5,529.1L902.7,527.0L903.0,525.1L903.2,523.5L903.4,521.8L903.6,521.5L903.8,520.4L904.0,517.4L904.2,516.5L904.4,514.6L904.7,514.3L904.9,513.7L905.1,512.8L906.4,511.8L907.9,511.5L909.2,510.1L910.6,510.1L911.8,510.2L912.7,510.7L913.3,511.4L914.0,513.9L914.6,515.1L915.1,517.2L915.7,517.9L916.3,517.9L916.8,517.6L917.4,516.0L917.9,514.9L918.5,512.8L919.1,511.8L920.2,512.9L921.4,513.5L922.5,514.7L923.6,515.8L924.7,518.1L925.8,519.3L927.5,519.8L929.2,520.5L929.7,521.6L930.2,523.0L930.7,523.7L931.3,525.3L931.8,527.2L932.2,528.4L932.6,529.6L933.0,531.2L933.3,532.5L933.6,533.3L933.9,534.7L934.3,536.5L935.3,537.3L936.5,538.9L937.6,539.3L938.2,541.3L938.8,542.3L939.3,544.5L939.8,546.8L940.4,545.7L940.7,546.0L940.9,543.9L941.2,543.7L941.5,541.8L941.7,541.0L942.0,539.1L942.3,537.3L942.6,535.0L942.9,534.2L943.2,532.2L944.1,530.8L945.1,529.3L946.2,528.6L947.2,527.9L948.2,528.1L949.2,529.5L950.2,531.0L951.1,532.3L951.7,534.2L952.3,535.0L952.8,535.8L953.3,538.2L953.9,538.9L954.5,540.9L955.8,539.5L957.2,539.3L958.4,539.3L959.4,540.6L960.2,541.2L961.2,542.7L961.8,544.6L962.4,546.3L963.1,548.2L963.8,549.5L964.5,549.6L965.1,551.7L965.8,551.2L966.5,549.1L967.2,547.9L967.8,546.5L968.5,545.4L969.3,543.9L970.2,541.8L971.0,540.8L971.9,540.4L972.8,539.3L973.8,537.8L974.8,537.4L975.8,536.7L977.1,535.5L978.4,536.2L979.7,536.1L980.3,538.6L980.9,538.9L981.5,540.5L982.0,542.6L982.6,544.7L983.1,544.8L983.6,544.5L984.1,543.5L984.5,541.1L984.9,540.4L985.4,539.0L985.9,537.4L987.0,538.0L988.1,539.5L989.3,540.3L990.6,540.7L991.9,542.8L993.2,542.2L993.6,542.2L994.1,539.9L994.5,538.2L994.9,537.0L995.3,535.4L995.7,534.3L996.1,532.7L996.6,531.9L997.6,531.1L998.8,529.7L999.9,529.9L1001.1,529.1L1002.6,527.7L1004.1,528.2L1005.6,527.2L1007.2,526.9L1008.9,526.2L1010.0,524.1" fill="none" stroke="#000" stroke-width="1.4" stroke-linejoin="round"/>
<path d="M736.3,164.8L710.3,177.5M744.6,164.8L774.0,181.5M852.5,123.3L855.8,145.7M935.5,179.0L954.6,188.1M758.0,354.0L773.6,373.6M811.1,359.0L840.8,361.1M735.7,428.5L709.3,441.6M745.3,434.5L729.5,461.5M759.1,456.0L774.4,472.9M812.1,454.5L838.5,470.0M935.6,458.6L952.6,470.2M243.8,598.0L253.1,617.5M697.3,542.3L678.6,557.4M757.8,571.5L741.4,587.0M811.9,606.9L796.5,620.6M828.3,574.5L837.2,614.5M850.5,573.0L866.6,593.4M857.2,561.0L878.6,574.6" stroke="#000" stroke-width="1.1" fill="none"/>
<path d="M0.373,0L0.285,0L0.285,-0.561Q0.252,-0.530 0.199,-0.499Q0.146,-0.468 0.109,-0.454L0.109,-0.539Q0.193,-0.578 0.256,-0.634Q0.318,-0.690 0.344,-0.716L0.373,-0.716Z" transform="translate(654.24,190.58) scale(25.300,26.185)"/><text transform="translate(654.24,190.58) scale(1,1.035)" x="14.07 28.14 42.21" y="0" font-family="Liberation Sans" font-size="25.3">493</text>
<path d="M0.373,0L0.285,0L0.285,-0.561Q0.252,-0.530 0.199,-0.499Q0.146,-0.468 0.109,-0.454L0.109,-0.539Q0.193,-0.578 0.256,-0.634Q0.318,-0.690 0.344,-0.716L0.373,-0.716Z" transform="translate(773.44,192.38) scale(25.300,26.185)"/><text transform="translate(773.44,192.38) scale(1,1.035)" x="14.07 28.14 42.21" y="0" font-family="Liberation Sans" font-size="25.3">452</text>
<path d="M0.373,0L0.285,0L0.285,-0.561Q0.252,-0.530 0.199,-0.499Q0.146,-0.468 0.109,-0.454L0.109,-0.539Q0.193,-0.578 0.256,-0.634Q0.318,-0.690 0.344,-0.716L0.373,-0.716Z" transform="translate(850.24,168.48) scale(25.300,26.185)"/><text transform="translate(850.24,168.48) scale(1,1.035)" x="14.07 28.14 42.21" y="0" font-family="Liberation Sans" font-size="25.3">028</text>
<text transform="translate(955.01,198.08) scale(1,1.035)" x="0.00 14.07 28.14" y="0" font-family="Liberation Sans" font-size="25.3">697</text>
<path d="M0.373,0L0.285,0L0.285,-0.561Q0.252,-0.530 0.199,-0.499Q0.146,-0.468 0.109,-0.454L0.109,-0.539Q0.193,-0.578 0.256,-0.634Q0.318,-0.690 0.344,-0.716L0.373,-0.716Z" transform="translate(773.94,388.78) scale(25.300,26.185)"/><text transform="translate(773.94,388.78) scale(1,1.035)" x="14.07 28.14 42.21" y="0" font-family="Liberation Sans" font-size="25.3">400</text>
<path d="M0.373,0L0.285,0L0.285,-0.561Q0.252,-0.530 0.199,-0.499Q0.146,-0.468 0.109,-0.454L0.109,-0.539Q0.193,-0.578 0.256,-0.634Q0.318,-0.690 0.344,-0.716L0.373,-0.716Z" transform="translate(841.64,370.48) scale(25.300,26.185)"/><path d="M0.373,0L0.285,0L0.285,-0.561Q0.252,-0.530 0.199,-0.499Q0.146,-0.468 0.109,-0.454L0.109,-0.539Q0.193,-0.578 0.256,-0.634Q0.318,-0.690 0.344,-0.716L0.373,-0.716Z" transform="translate(855.71,370.48) scale(25.300,26.185)"/><text transform="translate(841.64,370.48) scale(1,1.035)" x="28.14 42.21" y="0" font-family="Liberation Sans" font-size="25.3">85</text>
<path d="M0.373,0L0.285,0L0.285,-0.561Q0.252,-0.530 0.199,-0.499Q0.146,-0.468 0.109,-0.454L0.109,-0.539Q0.193,-0.578 0.256,-0.634Q0.318,-0.690 0.344,-0.716L0.373,-0.716Z" transform="translate(646.04,455.38) scale(25.300,26.185)"/><text transform="translate(646.04,455.38) scale(1,1.035)" x="14.07 28.14 42.21" y="0" font-family="Liberation Sans" font-size="25.3">493</text>
<path d="M0.373,0L0.285,0L0.285,-0.561Q0.252,-0.530 0.199,-0.499Q0.146,-0.468 0.109,-0.454L0.109,-0.539Q0.193,-0.578 0.256,-0.634Q0.318,-0.690 0.344,-0.716L0.373,-0.716Z" transform="translate(686.04,485.28) scale(25.300,26.185)"/><text transform="translate(686.04,485.28) scale(1,1.035)" x="14.07 28.14 42.21" y="0" font-family="Liberation Sans" font-size="25.3">452</text>
<path d="M0.373,0L0.285,0L0.285,-0.561Q0.252,-0.530 0.199,-0.499Q0.146,-0.468 0.109,-0.454L0.109,-0.539Q0.193,-0.578 0.256,-0.634Q0.318,-0.690 0.344,-0.716L0.373,-0.716Z" transform="translate(771.04,492.08) scale(25.300,26.185)"/><text transform="translate(771.04,492.08) scale(1,1.035)" x="14.07 28.14 42.21" y="0" font-family="Liberation Sans" font-size="25.3">400</text>
<path d="M0.373,0L0.285,0L0.285,-0.561Q0.252,-0.530 0.199,-0.499Q0.146,-0.468 0.109,-0.454L0.109,-0.539Q0.193,-0.578 0.256,-0.634Q0.318,-0.690 0.344,-0.716L0.373,-0.716Z" transform="translate(842.74,482.48) scale(25.300,26.185)"/><path d="M0.373,0L0.285,0L0.285,-0.561Q0.252,-0.530 0.199,-0.499Q0.146,-0.468 0.109,-0.454L0.109,-0.539Q0.193,-0.578 0.256,-0.634Q0.318,-0.690 0.344,-0.716L0.373,-0.716Z" transform="translate(856.81,482.48) scale(25.300,26.185)"/><text transform="translate(842.74,482.48) scale(1,1.035)" x="28.14 42.21" y="0" font-family="Liberation Sans" font-size="25.3">85</text>
<text transform="translate(955.61,482.48) scale(1,1.035)" x="0.00 14.07 28.14" y="0" font-family="Liberation Sans" font-size="25.3">697</text>
<text transform="translate(249.04,638.88) scale(1,1.035)" x="0.00 14.07 28.14 42.21" y="0" font-family="Liberation Sans" font-size="25.3">3460</text>
<path d="M0.373,0L0.285,0L0.285,-0.561Q0.252,-0.530 0.199,-0.499Q0.146,-0.468 0.109,-0.454L0.109,-0.539Q0.193,-0.578 0.256,-0.634Q0.318,-0.690 0.344,-0.716L0.373,-0.716Z" transform="translate(618.24,574.98) scale(25.300,26.185)"/><text transform="translate(618.24,574.98) scale(1,1.035)" x="14.07 28.14 42.21" y="0" font-family="Liberation Sans" font-size="25.3">637</text>
<path d="M0.373,0L0.285,0L0.285,-0.561Q0.252,-0.530 0.199,-0.499Q0.146,-0.468 0.109,-0.454L0.109,-0.539Q0.193,-0.578 0.256,-0.634Q0.318,-0.690 0.344,-0.716L0.373,-0.716Z" transform="translate(684.84,605.38) scale(25.300,26.185)"/><text transform="translate(684.84,605.38) scale(1,1.035)" x="14.07 28.14 42.21" y="0" font-family="Liberation Sans" font-size="25.3">400</text>
<path d="M0.373,0L0.285,0L0.285,-0.561Q0.252,-0.530 0.199,-0.499Q0.146,-0.468 0.109,-0.454L0.109,-0.539Q0.193,-0.578 0.256,-0.634Q0.318,-0.690 0.344,-0.716L0.373,-0.716Z" transform="translate(739.04,637.78) scale(25.300,26.185)"/><path d="M0.373,0L0.285,0L0.285,-0.561Q0.252,-0.530 0.199,-0.499Q0.146,-0.468 0.109,-0.454L0.109,-0.539Q0.193,-0.578 0.256,-0.634Q0.318,-0.690 0.344,-0.716L0.373,-0.716Z" transform="translate(753.11,637.78) scale(25.300,26.185)"/><text transform="translate(739.04,637.78) scale(1,1.035)" x="28.14 42.21" y="0" font-family="Liberation Sans" font-size="25.3">86</text>
<path d="M0.373,0L0.285,0L0.285,-0.561Q0.252,-0.530 0.199,-0.499Q0.146,-0.468 0.109,-0.454L0.109,-0.539Q0.193,-0.578 0.256,-0.634Q0.318,-0.690 0.344,-0.716L0.373,-0.716Z" transform="translate(833.04,633.68) scale(25.300,26.185)"/><path d="M0.373,0L0.285,0L0.285,-0.561Q0.252,-0.530 0.199,-0.499Q0.146,-0.468 0.109,-0.454L0.109,-0.539Q0.193,-0.578 0.256,-0.634Q0.318,-0.690 0.344,-0.716L0.373,-0.716Z" transform="translate(847.11,633.68) scale(25.300,26.185)"/><text transform="translate(833.04,633.68) scale(1,1.035)" x="28.14 42.21" y="0" font-family="Liberation Sans" font-size="25.3">28</text>
<path d="M0.373,0L0.285,0L0.285,-0.561Q0.252,-0.530 0.199,-0.499Q0.146,-0.468 0.109,-0.454L0.109,-0.539Q0.193,-0.578 0.256,-0.634Q0.318,-0.690 0.344,-0.716L0.373,-0.716Z" transform="translate(868.94,610.48) scale(25.300,26.185)"/><text transform="translate(868.94,610.48) scale(1,1.035)" x="14.07 28.14 42.21" y="0" font-family="Liberation Sans" font-size="25.3">039</text>
<path d="M0.373,0L0.285,0L0.285,-0.561Q0.252,-0.530 0.199,-0.499Q0.146,-0.468 0.109,-0.454L0.109,-0.539Q0.193,-0.578 0.256,-0.634Q0.318,-0.690 0.344,-0.716L0.373,-0.716Z" transform="translate(880.94,584.18) scale(25.300,26.185)"/><text transform="translate(880.94,584.18) scale(1,1.035)" x="14.07 28.14 42.21" y="0" font-family="Liberation Sans" font-size="25.3">009</text>
<text transform="translate(114.0,85.4) scale(1,0.953)" x="0" y="0" font-family="Liberation Serif" font-weight="bold" font-size="39.5">(a)</text>
<text transform="translate(116.2,237.4) scale(1,0.953)" x="0" y="0" font-family="Liberation Serif" font-weight="bold" font-size="39.5">(b)</text>
<text transform="translate(114.1,400.4) scale(1,0.953)" x="0" y="0" font-family="Liberation Serif" font-weight="bold" font-size="39.5">(c)</text>
<text transform="translate(112.8,516.8) scale(1,0.953)" x="0" y="0" font-family="Liberation Serif" font-weight="bold" font-size="39.5">(d)</text>
<text x="370.3" y="798.5" font-family="Liberation Serif" font-size="52.0">Wavenumber (cm<tspan dy="-31" font-size="30">-1</tspan><tspan dy="31" dx="1">)</tspan></text>
<text transform="translate(44.2,523) rotate(-90)" x="0" y="0" font-family="Liberation Serif" font-size="52.2">Transmittance (%)</text>
</svg>
</body></html>
